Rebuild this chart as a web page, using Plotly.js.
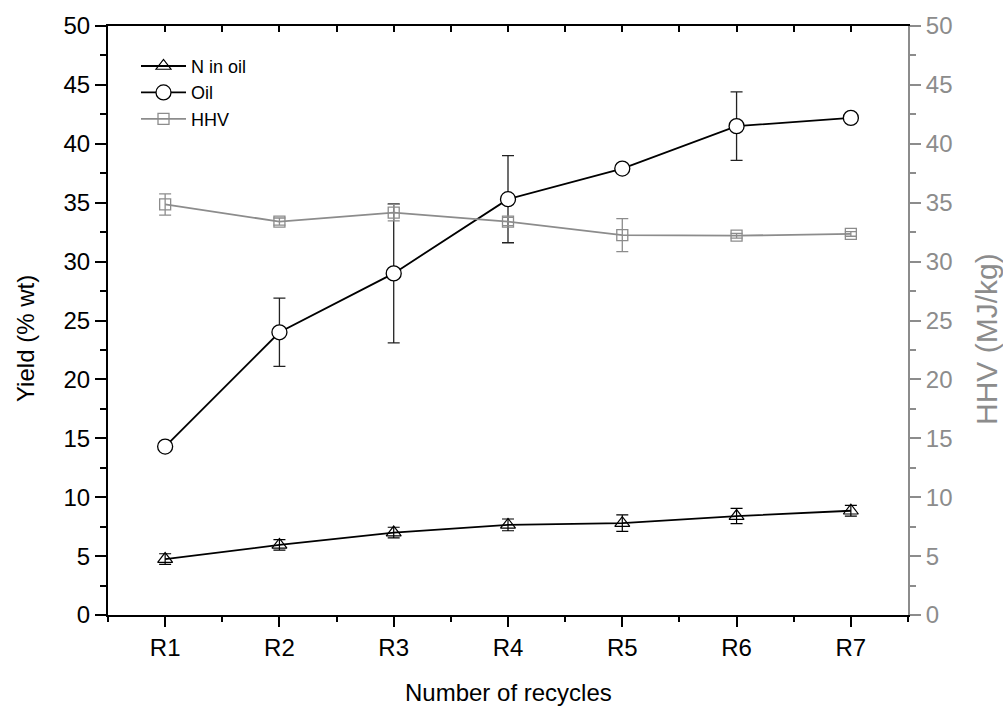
<!DOCTYPE html>
<html>
<head>
<meta charset="utf-8">
<script src="https://cdn.plot.ly/plotly-3.0.1.min.js"></script>
<style>html,body{margin:0;padding:0;background:#fff;}#chart{width:1003px;height:706px;}</style>
</head>
<body>
<div id="chart"></div>
<script>
// Data
var categories = ['R1', 'R2', 'R3', 'R4', 'R5', 'R6', 'R7'];
var nInOil     = [4.75, 5.95, 7.0, 7.65, 7.8, 8.4, 8.85];
var nInOilErr  = [0.45, 0.45, 0.45, 0.5, 0.7, 0.65, 0.45];
var oilYield   = [14.3, 24.0, 29.0, 35.3, 37.9, 41.5, 42.2];
var oilErr     = [0.4, 2.9, 5.9, 3.7, 0.3, 2.9, 0.3];
var hhv        = [34.85, 33.4, 34.15, 33.4, 32.25, 32.2, 32.35];
var hhvErr     = [0.9, 0.3, 0.7, 0.35, 1.4, 0.2, 0.2];

var idx = categories.map(function (c, i) { return i; });
var minorPos = [];
for (var k = -1; k < categories.length; k++) { minorPos.push(k + 0.5); }

var FONT = 'Liberation Sans, Arial, Helvetica, sans-serif';
var GRAY = '#8c8c8c';

var traces = [
  {
    x: idx, y: nInOil, name: 'N in oil', type: 'scatter', mode: 'lines+markers',
    line: {color: '#000', width: 1.8},
    marker: {symbol: 'triangle-up-open', size: 13, color: '#000', line: {width: 1.2, color: '#000'}},
    error_y: {type: 'data', array: nInOilErr, visible: true, color: '#000', thickness: 1.2, width: 6}
  },
  {
    x: idx, y: oilYield, name: 'Oil', type: 'scatter', mode: 'lines+markers',
    line: {color: '#000', width: 1.8},
    marker: {symbol: 'circle', size: 15, color: '#fff', line: {width: 1.3, color: '#000'}},
    error_y: {type: 'data', array: oilErr, visible: true, color: '#222', thickness: 1.3, width: 6}
  },
  {
    x: idx, y: hhv, name: 'HHV', type: 'scatter', mode: 'lines+markers', yaxis: 'y2',
    line: {color: GRAY, width: 1.8},
    marker: {symbol: 'square-open', size: 11, color: GRAY, line: {width: 1.3, color: GRAY}},
    error_y: {type: 'data', array: hhvErr, visible: true, color: GRAY, thickness: 1.3, width: 6}
  },
  {
    x: [idx[0]], y: [null], xaxis: 'x2', yaxis: 'y', type: 'scatter', mode: 'markers',
    showlegend: false, hoverinfo: 'skip'
  }
];

var layout = {
  width: 1003, height: 706,
  margin: {l: 108, r: 95, t: 26, b: 91, pad: 0},
  paper_bgcolor: '#fff', plot_bgcolor: '#fff',
  font: {family: FONT, size: 24, color: '#000'},
  showlegend: true,
  legend: {
    x: 0.035, y: 0.963, xanchor: 'left', yanchor: 'top',
    bgcolor: 'rgba(0,0,0,0)', borderwidth: 0,
    font: {family: FONT, size: 18, color: '#000'},
    tracegroupgap: 0, itemwidth: 45
  },
  xaxis: {
    range: [-0.5, categories.length - 0.5],
    tickmode: 'array', tickvals: idx, ticktext: categories,
    ticks: 'outside', ticklen: 10, tickwidth: 2, tickcolor: '#000',
    minor: {tickmode: 'array', tickvals: minorPos, ticks: 'outside', ticklen: 5, tickwidth: 2, tickcolor: '#000'},
    showline: true, linecolor: '#000', linewidth: 2,
    showgrid: false, zeroline: false,
    tickfont: {family: FONT, size: 24, color: '#000'},
    automargin: false
  },
  xaxis2: {
    overlaying: 'x', side: 'top', anchor: 'y',
    range: [-0.5, categories.length - 0.5],
    tickmode: 'array', tickvals: minorPos.concat(idx), ticktext: minorPos.concat(idx).map(function () { return ''; }),
    ticks: 'inside', ticklen: 6, tickwidth: 2, tickcolor: '#000',
    showline: true, linecolor: '#000', linewidth: 2,
    showgrid: false, zeroline: false, showticklabels: false
  },
  yaxis: {
    range: [0, 50], tickmode: 'linear', tick0: 0, dtick: 5,
    ticks: 'outside', ticklen: 11, tickwidth: 2, tickcolor: '#000',
    minor: {tickmode: 'linear', tick0: 0, dtick: 2.5, ticks: 'outside', ticklen: 6, tickwidth: 2, tickcolor: '#000'},
    showline: true, linecolor: '#000', linewidth: 2,
    showgrid: false, zeroline: false,
    tickfont: {family: FONT, size: 24, color: '#000'},
    automargin: false
  },
  yaxis2: {
    overlaying: 'y', side: 'right', anchor: 'x',
    range: [0, 50], tickmode: 'linear', tick0: 0, dtick: 5,
    ticks: 'outside', ticklen: 11, tickwidth: 2, tickcolor: GRAY,
    minor: {tickmode: 'linear', tick0: 0, dtick: 2.5, ticks: 'outside', ticklen: 6, tickwidth: 2, tickcolor: GRAY},
    showline: true, linecolor: GRAY, linewidth: 2,
    showgrid: false, zeroline: false,
    tickfont: {family: FONT, size: 24, color: GRAY},
    automargin: false
  },
  annotations: [
    {text: 'Yield (% wt)', xref: 'paper', yref: 'paper', x: (25 - 108) / 800, y: 1 - (339 - 26) / 589,
     xanchor: 'center', yanchor: 'middle', textangle: -90, showarrow: false,
     font: {family: FONT, size: 24, color: '#000'}},
    {text: 'HHV (MJ/kg)', xref: 'paper', yref: 'paper', x: (986 - 108) / 800, y: 1 - (339 - 26) / 589,
     xanchor: 'center', yanchor: 'middle', textangle: -90, showarrow: false,
     font: {family: FONT, size: 30, color: GRAY}},
    {text: 'Number of recycles', xref: 'paper', yref: 'paper', x: 0.5, y: -(692 - 615) / 589,
     xanchor: 'center', yanchor: 'middle', showarrow: false,
     font: {family: FONT, size: 24, color: '#000'}}
  ]
};

Plotly.newPlot('chart', traces, layout, {staticPlot: true, displayModeBar: false});
</script>
</body>
</html>
